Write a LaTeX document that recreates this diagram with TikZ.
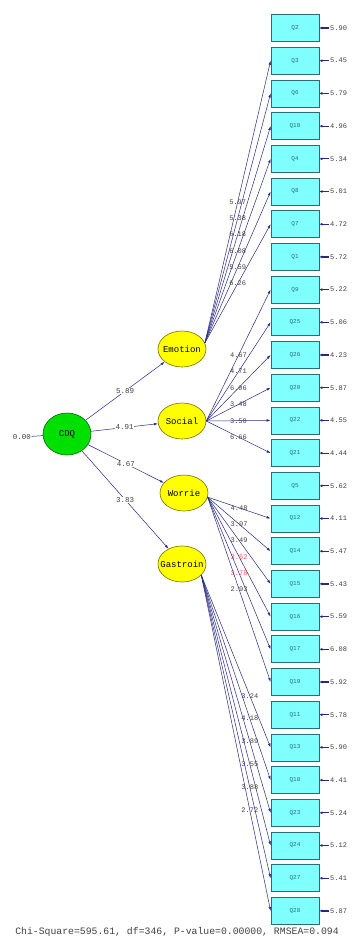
\documentclass[tikz,border=0pt]{standalone}
\usepackage{fontspec}
\usetikzlibrary{arrows.meta,shapes.geometric}
\newfontfamily\lisrel{Liberation Mono}
\definecolor{boxfill}{RGB}{128,255,255}
\definecolor{boxline}{RGB}{40,110,120}
\definecolor{latfill}{RGB}{255,255,0}
\definecolor{latline}{RGB}{120,110,0}
\definecolor{cdqfill}{RGB}{0,224,0}
\definecolor{pathcol}{RGB}{40,40,130}
\definecolor{estred}{RGB}{230,90,90}
\begin{document}
\begin{tikzpicture}[x=1pt,y=-1pt,font=\lisrel,
    item/.style={draw=boxline,line width=0.8pt,fill=boxfill,minimum width=48pt,minimum height=27pt,inner sep=0pt,text=boxline,font=\lisrel\fontsize{6}{7}\selectfont},
    latent/.style={ellipse,draw=latline,line width=0.6pt,fill=latfill,minimum width=48pt,minimum height=36pt,inner sep=0pt,font=\lisrel\fontsize{9}{10}\selectfont},
    errval/.style={anchor=west,inner sep=1pt,text=black!75,font=\lisrel\fontsize{7}{8}\selectfont},
    est/.style={inner sep=0.5pt,text=black!75,font=\lisrel\fontsize{7}{8}\selectfont},
    load/.style={draw=pathcol,line width=0.5pt,-{Latex[length=4pt,width=2.6pt]}},
    err/.style={draw=pathcol,line width=1.2pt,-{Latex[length=3pt,width=3pt]}}]
      \useasboundingbox (0,0) rectangle (352,946);
      \draw
        (67,434) node[latent,fill=cdqfill,draw=black!60!green,minimum height=42pt] (cdq){\makebox[0pt]{CDQ}}
        (182,349) node[latent] (emo){\makebox[0pt]{Emotion}}
        (182,421) node[latent] (soc){\makebox[0pt]{Social}}
        (184,493) node[latent] (wor){\makebox[0pt]{Worrie}}
        (182,564) node[latent] (gas){\makebox[0pt]{Gastroin}};
      \draw
        (295,28) node[item] (q2){Q2}
        (295,60.7) node[item] (q3){Q3}
        (295,93.4) node[item] (q6){Q6}
        (295,126.1) node[item] (q10){Q10}
        (295,158.8) node[item] (q4){Q4}
        (295,191.5) node[item] (q8){Q8}
        (295,224.2) node[item] (q7){Q7}
        (295,256.9) node[item] (q1){Q1}
        (295,289.6) node[item] (q9){Q9}
        (295,322.3) node[item] (q25){Q25}
        (295,355) node[item] (q26){Q26}
        (295,387.7) node[item] (q20){Q20}
        (295,420.4) node[item] (q22){Q22}
        (295,453.1) node[item] (q21){Q21}
        (295,485.8) node[item] (q5){Q5}
        (295,518.5) node[item] (q12){Q12}
        (295,551.2) node[item] (q14){Q14}
        (295,583.9) node[item] (q15){Q15}
        (295,616.6) node[item] (q16){Q16}
        (295,649.3) node[item] (q17){Q17}
        (295,682) node[item] (q19){Q19}
        (295,714.7) node[item] (q11){Q11}
        (295,747.4) node[item] (q13){Q13}
        (295,780.1) node[item] (q18){Q18}
        (295,812.8) node[item] (q23){Q23}
        (295,845.5) node[item] (q24){Q24}
        (295,878.2) node[item] (q27){Q27}
        (295,910.9) node[item] (q28){Q28};
      \draw
        (329,28) node[errval] (e2){5.90}
        (329,60.7) node[errval] (e3){5.45}
        (329,93.4) node[errval] (e6){5.79}
        (329,126.1) node[errval] (e10){4.96}
        (329,158.8) node[errval] (e4){5.34}
        (329,191.5) node[errval] (e8){5.01}
        (329,224.2) node[errval] (e7){4.72}
        (329,256.9) node[errval] (e1){5.72}
        (329,289.6) node[errval] (e9){5.22}
        (329,322.3) node[errval] (e25){5.06}
        (329,355) node[errval] (e26){4.23}
        (329,387.7) node[errval] (e20){5.87}
        (329,420.4) node[errval] (e22){4.55}
        (329,453.1) node[errval] (e21){4.44}
        (329,485.8) node[errval] (e5){5.62}
        (329,518.5) node[errval] (e12){4.11}
        (329,551.2) node[errval] (e14){5.47}
        (329,583.9) node[errval] (e15){5.43}
        (329,616.6) node[errval] (e16){5.59}
        (329,649.3) node[errval] (e17){6.08}
        (329,682) node[errval] (e19){5.92}
        (329,714.7) node[errval] (e11){5.78}
        (329,747.4) node[errval] (e13){5.90}
        (329,780.1) node[errval] (e18){4.41}
        (329,812.8) node[errval] (e23){5.24}
        (329,845.5) node[errval] (e24){5.12}
        (329,878.2) node[errval] (e27){5.41}
        (329,910.9) node[errval] (e28){5.87};
      \draw
        (22,437) node[est,font=\lisrel\fontsize{7.5}{8}\selectfont] (var){0.00}
        (177,932) node[text=black!75,font=\lisrel\fontsize{9.8}{11}\selectfont] (fit){Chi-Square=595.61, df=346, P-value=0.00000, RMSEA=0.094};
      \draw[draw=pathcol,line width=0.5pt] (var) -- (cdq);
      \begin{scope}[load]
        \draw (cdq) -- node[est,fill=white,font=\lisrel\fontsize{7.5}{8}\selectfont]{5.89} (emo);
        \draw (cdq) -- node[est,fill=white,font=\lisrel\fontsize{7.5}{8}\selectfont]{4.91} (soc);
        \draw (cdq) -- node[est,fill=white,font=\lisrel\fontsize{7.5}{8}\selectfont]{4.67} (wor);
        \draw (cdq) -- node[est,fill=white,font=\lisrel\fontsize{7.5}{8}\selectfont]{3.83} (gas);
        \draw (emo.15) -- node[est]{5.97} (q3.west);
        \draw (emo.15) -- node[est]{5.38} (q6.west);
        \draw (emo.15) -- node[est]{6.18} (q10.west);
        \draw (emo.15) -- node[est]{6.08} (q4.west);
        \draw (emo.15) -- node[est]{5.59} (q8.west);
        \draw (emo.15) -- node[est]{6.26} (q7.west);
        \draw (soc.east) -- node[est]{4.67} (q9.west);
        \draw (soc.east) -- node[est]{4.71} (q25.west);
        \draw (soc.east) -- node[est]{6.06} (q26.west);
        \draw (soc.east) -- node[est]{3.48} (q20.west);
        \draw (soc.east) -- node[est]{3.50} (q22.west);
        \draw (soc.east) -- node[est]{6.66} (q21.west);
        \draw (wor.-10) -- node[est]{4.48} (q12.west);
        \draw (wor.-10) -- node[est]{3.97} (q14.west);
        \draw (wor.-10) -- node[est]{3.49} (q15.west);
        \draw (wor.-10) -- node[est,text=estred]{3.52} (q16.west);
        \draw (wor.-10) -- node[est,text=estred]{3.78} (q17.west);
        \draw (wor.-10) -- node[est]{2.93} (q19.west);
        \draw (gas.-30) -- node[est,pos=0.7]{3.24} (q13.west);
        \draw (gas.-30) -- node[est,pos=0.7]{4.18} (q18.west);
        \draw (gas.-30) -- node[est,pos=0.7]{3.89} (q23.west);
        \draw (gas.-30) -- node[est,pos=0.7]{3.55} (q24.west);
        \draw (gas.-30) -- node[est,pos=0.7]{3.88} (q27.west);
        \draw (gas.-30) -- node[est,pos=0.7]{2.72} (q28.west);
      \end{scope}
      \begin{scope}[err]
        \draw (e2) -- (q2);
        \draw (e3) -- (q3);
        \draw (e6) -- (q6);
        \draw (e10) -- (q10);
        \draw (e4) -- (q4);
        \draw (e8) -- (q8);
        \draw (e7) -- (q7);
        \draw (e1) -- (q1);
        \draw (e9) -- (q9);
        \draw (e25) -- (q25);
        \draw (e26) -- (q26);
        \draw (e20) -- (q20);
        \draw (e22) -- (q22);
        \draw (e21) -- (q21);
        \draw (e5) -- (q5);
        \draw (e12) -- (q12);
        \draw (e14) -- (q14);
        \draw (e15) -- (q15);
        \draw (e16) -- (q16);
        \draw (e17) -- (q17);
        \draw (e19) -- (q19);
        \draw (e11) -- (q11);
        \draw (e13) -- (q13);
        \draw (e18) -- (q18);
        \draw (e23) -- (q23);
        \draw (e24) -- (q24);
        \draw (e27) -- (q27);
        \draw (e28) -- (q28);
      \end{scope}
    \end{tikzpicture}
\end{document}
